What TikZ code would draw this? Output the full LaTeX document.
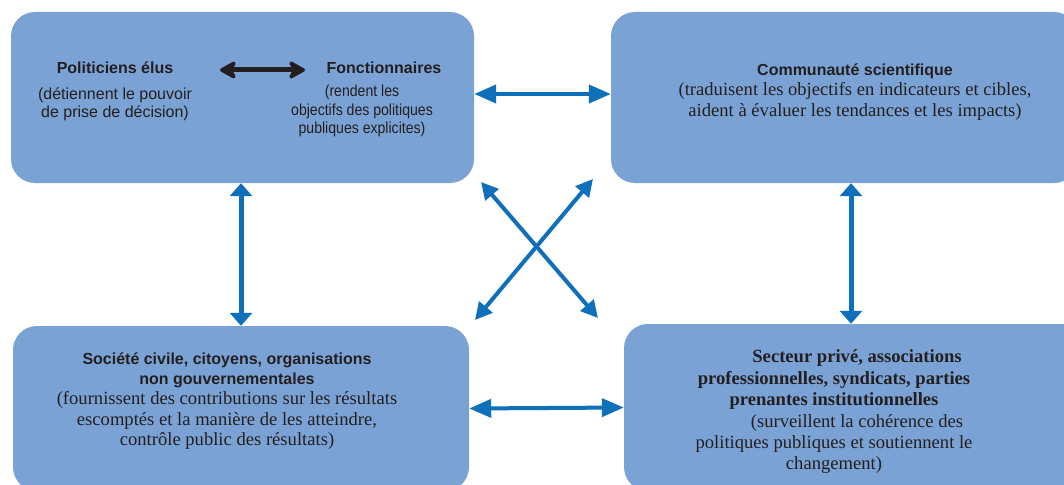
\documentclass[tikz,border=0pt]{standalone}
\usepackage{fontspec}
\setmainfont{Liberation Serif}
\setsansfont{Liberation Sans}
\newfontfamily\narrowsans[FakeStretch=0.88]{Liberation Sans}
\usepackage{tikz}
\usetikzlibrary{arrows.meta}
\definecolor{boxblue}{HTML}{7BA2D5}
\definecolor{arrowblue}{HTML}{0E6FBB}
\definecolor{inkgray}{HTML}{231F20}

\begin{document}
\begin{tikzpicture}[x=1pt,y=-1pt,
    actor/.style={fill=boxblue, rounded corners=24pt, inner sep=0pt},
    txt/.style={text=inkgray, align=center, inner sep=0pt},
    hflow/.style={arrowblue, line width=4pt, {Triangle[length=22pt,width=18pt]}-{Triangle[length=22pt,width=18pt]}},
    vflow/.style={arrowblue, line width=5pt, {Triangle[length=13pt,width=22pt]}-{Triangle[length=13pt,width=22pt]}},
    dflow/.style={arrowblue, line width=4pt, {Triangle[length=17pt,width=17pt]}-{Triangle[length=17pt,width=17pt]}}]
    \clip (0,0) rectangle (1064,484);
    \useasboundingbox (0,0) rectangle (1064,484);

    % Draw the four boxes
    \node[actor, minimum width=463pt, minimum height=171pt] (politics) at (242.5,97.5) {};
    \node[actor, minimum width=467pt, minimum height=171pt] (science) at (844.5,97.5) {};
    \node[actor, minimum width=456pt, minimum height=165pt] (society) at (241,408.5) {};
    \node[actor, minimum width=461pt, minimum height=167pt] (private) at (854.5,407.5) {};

    % Texts of the first box
    \node[txt, font=\sffamily\bfseries\fontsize{16}{18}\selectfont] (elus) at (115,68) {Politiciens élus};
    \node[txt, font=\sffamily\fontsize{16}{18}\selectfont] (elusrole) at (115,104.5) {(détiennent le pouvoir\\de prise de décision)};
    \node[txt, font=\sffamily\bfseries\fontsize{16}{18}\selectfont] (fonct) at (384,68) {Fonctionnaires};
    \node[txt, font=\narrowsans\fontsize{16}{18.5}\selectfont] (fonctrole) at (362,111) {(rendent les\\objectifs des politiques\\publiques explicites)};

    % Texts of the other boxes
    \node[txt, font=\fontsize{18.6}{20.5}\selectfont] (scitext) at (855,92)
        {{\sffamily\bfseries\fontsize{16}{18}\selectfont Communauté scientifique}\\(traduisent les objectifs en indicateurs et cibles,\\aident à évaluer les tendances et les impacts)};
    \node[txt, font=\fontsize{18.6}{20.3}\selectfont] (societytext) at (227,401)
        {{\sffamily\bfseries\fontsize{16}{18}\selectfont Société civile, citoyens, organisations}\\{\sffamily\bfseries\fontsize{16}{18}\selectfont non gouvernementales}\\(fournissent des contributions sur les résultats\\escomptés et la manière de les atteindre,\\contrôle public des résultats)};
    \node[txt, font=\fontsize{18.6}{21.4}\selectfont] (privatetext) at (834,412)
        {{\bfseries\hspace*{46pt}Secteur privé, associations}\\{\bfseries professionnelles, syndicats, parties}\\{\bfseries prenantes institutionnelles}\\\hspace*{46pt}(surveillent la cohérence des\\politiques publiques et soutiennent le\\changement)};

    % Draw the arrows
    \draw[inkgray, line width=5pt, {Stealth[length=20pt,width=22pt,inset=6pt,round]}-{Stealth[length=20pt,width=22pt,inset=6pt,round]},
        shorten <=105pt, shorten >=79pt] ([yshift=-2pt]elus.center) -- ([yshift=-2pt]fonct.center);
    \draw[hflow] ([yshift=3.5pt]politics.east) -- ([yshift=3.5pt]science.west);
    \draw[hflow] (society.east) -- (private.west);
    \draw[vflow] ([xshift=-1.5pt]politics.south) -- (society.north);
    \draw[vflow] ([xshift=6.5pt]science.south) -- ([xshift=-3.5pt]private.north);

    % Draw the crossing arrows
    \coordinate (nw) at (481,182);
    \coordinate (se) at (598,318);
    \coordinate (ne) at (593,179);
    \coordinate (sw) at (475,320);
    \draw[dflow] (nw) -- (se);
    \draw[dflow] (ne) -- (sw);
\end{tikzpicture}
\end{document}
